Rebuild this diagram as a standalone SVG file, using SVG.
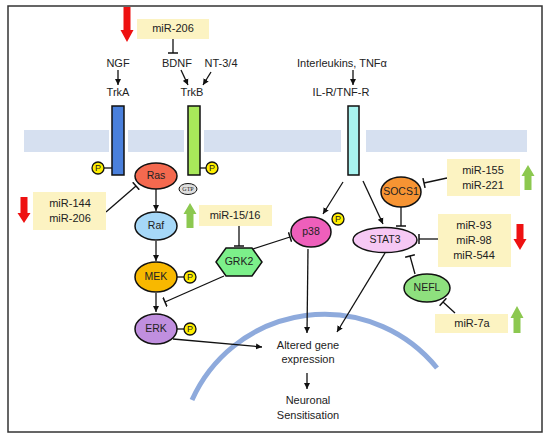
<svg xmlns="http://www.w3.org/2000/svg" width="550" height="440" viewBox="0 0 550 440">
<defs>
<style>
text{font-family:"Liberation Sans",Arial,sans-serif;font-size:11px;fill:#222;text-anchor:middle;dominant-baseline:middle}
.n{font-size:10.5px}
.box{fill:#fcf3c2}
.mem{fill:#d6e0f0}
.node{stroke:#111;stroke-width:1.5}
.c{stroke:#111;stroke-width:1.3;fill:none}
.a{marker-end:url(#arr)}
.t{marker-end:url(#tee)}
.p{fill:#ffee00;stroke:#111;stroke-width:1.3}
.pt{font-size:9px}
.red{fill:#ee1111}
.grn{fill:#8cc850}
</style>
<marker id="arr" markerUnits="userSpaceOnUse" markerWidth="7" markerHeight="7" refX="6" refY="3.5" orient="auto"><path d="M0,0.5 L6,3.5 L0,6.5 z" fill="#111"/></marker>
<marker id="tee" markerUnits="userSpaceOnUse" markerWidth="3" markerHeight="10" refX="1.5" refY="5" orient="auto"><path d="M1.5,0 L1.5,10" stroke="#111" stroke-width="1.5"/></marker>
</defs>
<rect x="8" y="6" width="534" height="426" fill="#fff" stroke="#333" stroke-width="1.5"/>
<g id="membrane">
<rect class="mem" x="24" y="130" width="85" height="22"/>
<rect class="mem" x="128" y="130" width="56" height="22"/>
<rect class="mem" x="204" y="130" width="137" height="22"/>
<rect class="mem" x="366" y="130" width="161" height="22"/>
</g>
<path id="nucleus" d="M192,400 A145,145 0 0,1 437,368" fill="none" stroke="#8eaadc" stroke-width="5"/>
<g id="connectors">
<line class="c a" x1="118" y1="70" x2="118" y2="85"/>
<line class="c a" x1="181" y1="70" x2="188" y2="85"/>
<line class="c a" x1="211" y1="72" x2="203" y2="85"/>
<line class="c a" x1="353" y1="70" x2="353" y2="85"/>
<line class="c t" x1="173" y1="39" x2="173" y2="53"/>
<line class="c t" x1="106" y1="212" x2="136" y2="186"/>
<line class="c a" x1="156" y1="189" x2="156" y2="211"/>
<line class="c a" x1="156" y1="241" x2="156" y2="261"/>
<line class="c a" x1="156" y1="293" x2="156" y2="312"/>
<line class="c t" x1="239" y1="226" x2="239" y2="246"/>
<line class="c t" x1="253" y1="249" x2="290" y2="237"/>
<line class="c t" x1="224" y1="276" x2="165" y2="302"/>
<line class="c a" x1="343" y1="182" x2="323" y2="214"/>
<line class="c a" x1="363" y1="181" x2="383" y2="224"/>
<line class="c t" x1="447" y1="178" x2="424" y2="183"/>
<line class="c t" x1="401" y1="207" x2="401" y2="226"/>
<line class="c t" x1="438" y1="239" x2="419" y2="239"/>
<line class="c t" x1="415" y1="274" x2="410" y2="256"/>
<line class="c t" x1="455" y1="313" x2="443" y2="302"/>
<line class="c a" x1="173" y1="339" x2="262" y2="347"/>
<line class="c a" x1="308" y1="249" x2="307" y2="333"/>
<line class="c a" x1="385" y1="253" x2="337" y2="332"/>
<line class="c a" x1="307" y1="373" x2="307" y2="389"/>
<line class="c" x1="104" y1="168" x2="112" y2="168"/>
<line class="c" x1="200" y1="168" x2="206" y2="168"/>
<line class="c" x1="177" y1="277" x2="184" y2="277"/>
<line class="c" x1="177" y1="329" x2="184" y2="329"/>
</g>
<g id="labels">
<text x="118" y="64">NGF</text>
<text x="118" y="93">TrkA</text>
<text x="177" y="64">BDNF</text>
<text x="221" y="64">NT-3/4</text>
<text x="192" y="93">TrkB</text>
<text x="342" y="64">Interleukins, TNFα</text>
<text x="341" y="93">IL-R/TNF-R</text>
</g>
<g id="TrkA"><rect class="node" x="112" y="106" width="12" height="69" fill="#4a80dc"/><circle class="p" cx="98" cy="168" r="6"/><text class="pt" x="98" y="168.5">P</text></g>
<g id="TrkB"><rect class="node" x="188" y="106" width="12" height="69" fill="#a8e85a"/><circle class="p" cx="212" cy="168" r="6"/><text class="pt" x="212" y="168.5">P</text></g>
<g id="ILR"><rect class="node" x="348" y="106" width="11" height="69" fill="#a8f4f0"/></g>
<g id="Ras"><ellipse class="node" cx="156" cy="176" rx="21" ry="13" fill="#f4694f"/><text class="n" x="156" y="176">Ras</text>
<ellipse cx="188" cy="189" rx="9" ry="5.5" fill="#dedede" stroke="#111" stroke-width="1"/><text x="188" y="189.5" style="font-size:6px;font-family:'Liberation Serif',serif">GTP</text></g>
<g id="Raf"><ellipse class="node" cx="156" cy="226" rx="21" ry="14" fill="#a6d8f8"/><text class="n" x="156" y="226">Raf</text></g>
<g id="MEK"><ellipse class="node" cx="156" cy="277" rx="21" ry="15" fill="#f8b800"/><text class="n" x="156" y="277">MEK</text><circle class="p" cx="190" cy="277" r="6"/><text class="pt" x="190" y="277.5">P</text></g>
<g id="ERK"><ellipse class="node" cx="156" cy="329" rx="21" ry="15" fill="#c08fdf"/><text class="n" x="156" y="329">ERK</text><circle class="p" cx="190" cy="329" r="6"/><text class="pt" x="190" y="329.5">P</text></g>
<g id="GRK2"><polygon class="node" points="216,262 226,248 252,248 262,262 252,276 226,276" fill="#7cf08a"/><text class="n" x="239" y="262">GRK2</text></g>
<g id="p38"><ellipse class="node" cx="311" cy="232" rx="20" ry="15" fill="#ee5fbb"/><text class="n" x="311" y="232">p38</text><circle class="p" cx="338" cy="219" r="6"/><text class="pt" x="338" y="219.5">P</text></g>
<g id="STAT3"><ellipse class="node" cx="385" cy="240" rx="32" ry="12.5" fill="#f6c8f4"/><text class="n" x="385" y="240">STAT3</text></g>
<g id="SOCS1"><ellipse class="node" cx="401" cy="192" rx="20" ry="15" fill="#f79433"/><text class="n" x="401" y="192">SOCS1</text></g>
<g id="NEFL"><ellipse class="node" cx="427" cy="288" rx="23" ry="14" fill="#8ee07e"/><text class="n" x="427" y="288">NEFL</text></g>
<g id="mir206top"><rect class="box" x="137" y="19" width="72" height="20"/><text x="173" y="29.5">miR-206</text>
<polygon class="red" points="123.5,7 130.5,7 130.5,30 133.5,30 127,42 120.5,30 123.5,30"/></g>
<g id="mir144"><rect class="box" x="33" y="192" width="73" height="38"/><text x="70" y="204">miR-144</text><text x="70" y="219">miR-206</text>
<polygon class="red" points="20.5,197 27.5,197 27.5,213 30.5,213 24,223 17.5,213 20.5,213"/></g>
<g id="mir1516"><rect class="box" x="199" y="205" width="73" height="21"/><text x="235" y="216">miR-15/16</text>
<polygon class="grn" points="186.5,228 193.5,228 193.5,214 196.5,214 190,203 183.5,214 186.5,214"/></g>
<g id="mir155"><rect class="box" x="447" y="159" width="73" height="37"/><text x="483" y="171">miR-155</text><text x="483" y="186">miR-221</text>
<polygon class="grn" points="524.5,190 531.5,190 531.5,176 534.5,176 528,165 521.5,176 524.5,176"/></g>
<g id="mir93"><rect class="box" x="438" y="214" width="73" height="53"/><text x="474" y="226">miR-93</text><text x="474" y="241">miR-98</text><text x="474" y="256">miR-544</text>
<polygon class="red" points="516.5,224 523.5,224 523.5,239 526.5,239 520,250 513.5,239 516.5,239"/></g>
<g id="mir7a"><rect class="box" x="435" y="314" width="73" height="19"/><text x="472" y="324">miR-7a</text>
<polygon class="grn" points="513.5,333 520.5,333 520.5,318 523.5,318 517,306 510.5,318 513.5,318"/></g>
<g id="outcome"><text x="308" y="346">Altered gene</text><text x="308" y="360">expression</text><text x="308" y="401">Neuronal</text><text x="308" y="416">Sensitisation</text></g>
</svg>
